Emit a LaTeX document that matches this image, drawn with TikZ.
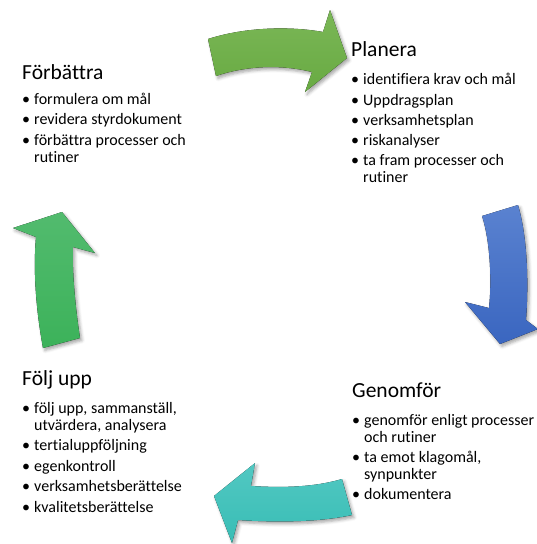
\documentclass[tikz,border=0pt]{standalone}
\usepackage{fontspec}
\setmainfont[Ligatures=NoCommon]{Carlito}
\usetikzlibrary{shadows.blur}
\definecolor{gtop}{HTML}{7BB757}
\definecolor{gbot}{HTML}{68AA42}
\definecolor{btop}{HTML}{5A82D0}
\definecolor{bbot}{HTML}{3A66C0}
\definecolor{ttop}{HTML}{52C8C2}
\definecolor{tbot}{HTML}{38BDB5}
\definecolor{ltop}{HTML}{52BB6E}
\definecolor{lbot}{HTML}{3CB25A}
\tikzset{
  head/.style={anchor=base west, inner sep=0pt, font=\fontsize{21.5}{24}\selectfont, text=black},
  txt/.style={anchor=base west, inner sep=0pt, font=\fontsize{16}{18}\selectfont, text=black},
  arrowshape/.style={draw=none, blur shadow={shadow xshift=2pt, shadow yshift=-2.5pt, shadow blur radius=3pt, shadow opacity=35}},
}
\begin{document}
\begin{tikzpicture}[x=1pt,y=-1pt]
\useasboundingbox (0,0) rectangle (536,544);
% arrows
\fill[arrowshape, top color=gtop, bottom color=gbot]
  (208,39) .. controls (245,27) and (290,26) .. (323,32)
  -- (330,10) -- (347,58) -- (305,92) -- (312,72)
  .. controls (280,64) and (245,66) .. (216,76) -- cycle;
\fill[arrowshape, top color=btop, bottom color=bbot]
  (482,216) -- (518,205)
  .. controls (527,235) and (529,280) .. (526,320)
  -- (538,329) -- (500,344) -- (465,302) -- (489,308)
  .. controls (492,280) and (490,240) .. (482,216) -- cycle;
\fill[arrowshape, top color=ttop, bottom color=tbot]
  (342,479) -- (352,515)
  .. controls (315,523) and (270,522) .. (238,520)
  -- (232,543) -- (214,496) -- (255,463) -- (251,486)
  .. controls (285,488) and (315,487) .. (342,479) -- cycle;
\fill[arrowshape, top color=ltop, bottom color=lbot]
  (43,348) -- (80,338)
  .. controls (75,305) and (72,270) .. (73,247)
  -- (95,253) -- (62,212) -- (13,228) -- (36,237)
  .. controls (33,270) and (36,310) .. (43,348) -- cycle;
% Planera
\node[head] (planH) at (351,56) {Planera};
\node[txt] (pb1) at (351,84.5) {•};
\node[txt] (p1) at (363,84.5) {identifiera krav och mål};
\node[txt] (pb2) at (351,105) {•};
\node[txt] (p2) at (363,105) {Uppdragsplan};
\node[txt] (pb3) at (351,125) {•};
\node[txt] (p3) at (363,125) {verksamhetsplan};
\node[txt] (pb4) at (351,145) {•};
\node[txt] (p4) at (363,145) {riskanalyser};
\node[txt] (pb5) at (351,165.5) {•};
\node[txt] (p5) at (363,165.5) {ta fram processer och};
\node[txt] (p5b) at (363,182.5) {rutiner};
% Förbättra
\node[head] (forH) at (22,79) {Förbättra};
\node[txt] (fb1) at (22,104.5) {•};
\node[txt] (f1) at (34,104.5) {formulera om mål};
\node[txt] (fb2) at (22,124.5) {•};
\node[txt] (f2) at (34,124.5) {revidera styrdokument};
\node[txt] (fb3) at (22,145) {•};
\node[txt] (f3) at (34,145) {förbättra processer och};
\node[txt] (f3b) at (34,162) {rutiner};
% Genomför
\node[head] (genH) at (352,397) {Genomför};
\node[txt] (gb1) at (352,425) {•};
\node[txt] (g1) at (364,425) {genomför enligt processer};
\node[txt] (g1b) at (364,442) {och rutiner};
\node[txt] (gb2) at (352,462) {•};
\node[txt] (g2) at (364,462) {ta emot klagomål,};
\node[txt] (g2b) at (364,479) {synpunkter};
\node[txt] (gb3) at (352,499) {•};
\node[txt] (g3) at (364,499) {dokumentera};
% Följ upp
\node[head] (folH) at (22,385) {Följ upp};
\node[txt] (ub1) at (22,413) {•};
\node[txt] (u1) at (34,413) {följ upp, sammanställ,};
\node[txt] (u1b) at (34,430) {utvärdera, analysera};
\node[txt] (ub2) at (22,450.5) {•};
\node[txt] (u2) at (34,450.5) {tertialuppföljning};
\node[txt] (ub3) at (22,471) {•};
\node[txt] (u3) at (34,471) {egenkontroll};
\node[txt] (ub4) at (22,491.5) {•};
\node[txt] (u4) at (34,491.5) {verksamhetsberättelse};
\node[txt] (ub5) at (22,512) {•};
\node[txt] (u5) at (34,512) {kvalitetsberättelse};
\end{tikzpicture}
\end{document}
